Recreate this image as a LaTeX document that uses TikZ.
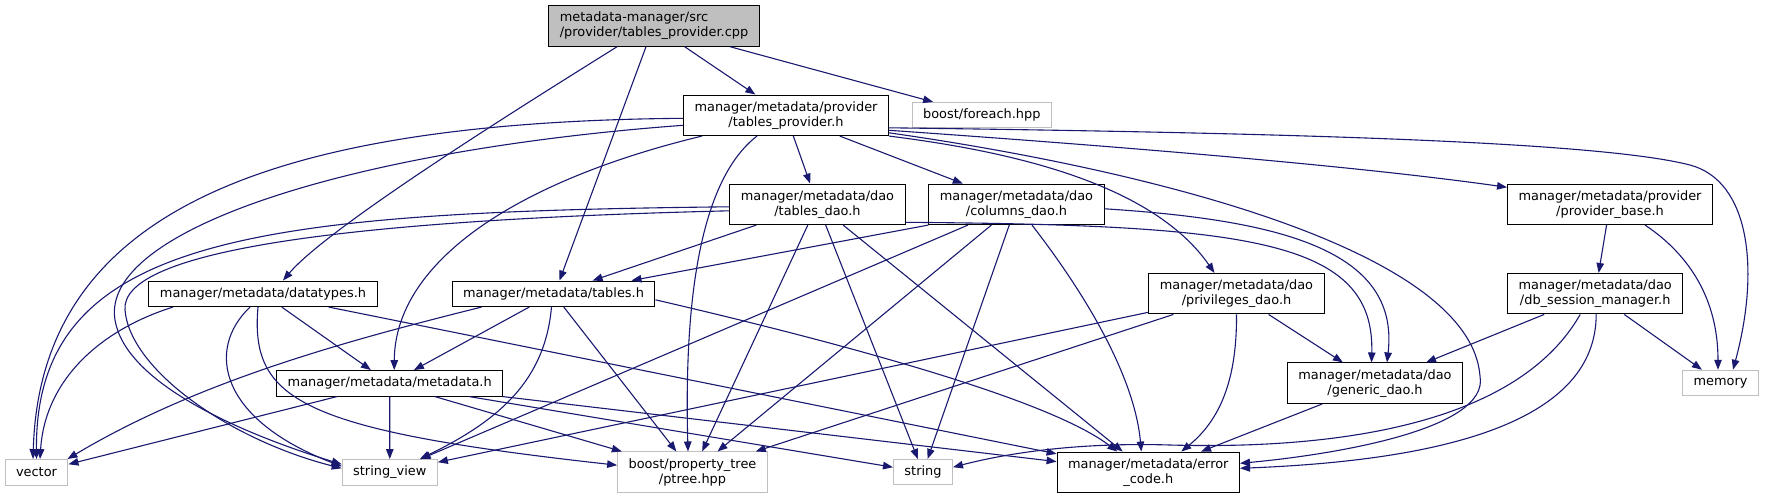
\documentclass[tikz,border=0pt]{standalone}
\usepackage{fontspec}
\setmainfont{DejaVu Sans}
\usetikzlibrary{arrows.meta}
\definecolor{dEdge}{HTML}{191970}
\definecolor{dGrey}{HTML}{BFBFBF}
\tikzset{
  hdr/.style={draw=black, fill=white, line width=1pt, inner xsep=11pt, inner ysep=1pt,
              minimum height=25.5pt, align=center, font=\fontsize{12.9pt}{15pt}\selectfont},
  hdr2/.style={hdr, minimum height=40.5pt},
  sys/.style={hdr, draw=dGrey},
  sys2/.style={hdr2, draw=dGrey},
  inc/.style={->, dEdge, line width=1.1pt},
}

\begin{document}
\begin{tikzpicture}[x=1pt, y=-1pt, >={Triangle[length=10pt, width=7.5pt]}]
  \useasboundingbox (0,0) rectangle (1765,499);
  % files, top to bottom
  \node[hdr2, fill=dGrey, align=left] (root) at (654,26) {metadata-manager/src\\/provider/tables\_provider.cpp};
  \node[hdr2] (tp) at (786,115.3) {manager/metadata/provider\\/tables\_provider.h};
  \node[sys] (foreach) at (981.8,115.2) {boost/foreach.hpp};
  \node[hdr2] (tdao) at (817.5,204.3) {manager/metadata/dao\\/tables\_dao.h};
  \node[hdr2] (cdao) at (1016.5,204.3) {manager/metadata/dao\\/columns\_dao.h};
  \node[hdr2] (pbase) at (1610,204.3) {manager/metadata/provider\\/provider\_base.h};
  \node[hdr] (dtypes) at (263,293.8) {manager/metadata/datatypes.h};
  \node[hdr] (tables) at (553.5,293.8) {manager/metadata/tables.h};
  \node[hdr2] (priv) at (1236.5,293.7) {manager/metadata/dao\\/privileges\_dao.h};
  \node[hdr2] (dbsm) at (1595.2,293.7) {manager/metadata/dao\\/db\_session\_manager.h};
  \node[hdr] (meta) at (389.7,383.3) {manager/metadata/metadata.h};
  \node[hdr2] (gdao) at (1375,383.2) {manager/metadata/dao\\/generic\_dao.h};
  \node[sys] (memory) at (1720.5,383) {memory};
  \node[sys] (vector) at (36.5,472.3) {vector};
  \node[sys] (sview) at (389.8,472.3) {string\_view};
  \node[sys2] (ptree) at (692.5,472.2) {boost/property\_tree\\/ptree.hpp};
  \node[sys] (string) at (923,472.2) {string};
  \node[hdr2] (err) at (1148.3,472.3) {manager/metadata/error\\\_code.h};

  % tables_provider.cpp
  \draw[inc] (root) -- (tp);
  \draw[inc] (root) -- (foreach);
  \draw[inc] ([xshift=-37pt]root.south) .. controls (540,95) and (330,225) .. ([xshift=20pt]dtypes.north);
  \draw[inc] ([xshift=-8pt]root.south) -- ([xshift=6pt]tables.north);

  % tables_provider.h
  \draw[inc] ([yshift=-3pt]tp.west) .. controls (250,122) and (40,220) .. ([xshift=-3.5pt]vector.north);
  \draw[inc] ([yshift=-10pt]tp.west) .. controls (350,150) and (100,230) .. (115,320)
             .. controls (125,380) and (230,430) .. ([yshift=8pt]sview.west);
  \draw[inc] ([xshift=-84pt]tp.south) .. controls (520,180) and (395,260) .. ([xshift=4.5pt]meta.north);
  \draw[inc] ([xshift=-29pt]tp.south) .. controls (700,180) and (684,300) .. ([xshift=-4.5pt]ptree.north);
  \draw[inc] (tp) -- (tdao);
  \draw[inc] (tp) -- (cdao);
  \draw[inc] (tp.south east) .. controls (1000,150) and (1150,180) .. ([xshift=-22pt]priv.north);
  \draw[inc] ([yshift=-17.5pt]tp.east) .. controls (1150,170) and (1470,250) .. (1480,376)
             .. controls (1490,430) and (1330,455) .. ([yshift=9pt]err.east);
  \draw[inc] ([yshift=-15pt]tp.east) .. controls (1100,145) and (1350,165) .. ([yshift=17pt]pbase.west);
  \draw[inc] ([yshift=-12.5pt]tp.east) .. controls (1300,133) and (1600,142) .. (1690,165)
             .. controls (1750,181) and (1760,270) .. ([xshift=12.5pt]memory.north);

  % tables_dao.h
  \draw[inc] ([yshift=-2.5pt]tdao.west) .. controls (250,212) and (35,238) .. (vector.north);
  \draw[inc] ([yshift=-6.5pt]tdao.west) .. controls (350,220) and (120,250) .. (125,310)
             .. controls (130,370) and (230,440) .. ([yshift=4pt]sview.west);
  \draw[inc] (tdao) -- (tables);
  \draw[inc] (tdao) -- (ptree);
  \draw[inc] (tdao) -- (string);
  \draw[inc] (tdao) -- (err);
  \draw[inc] ([yshift=-18pt]tdao.east) .. controls (1250,225) and (1375,240) .. ([xshift=-3.5pt]gdao.north);

  % columns_dao.h
  \draw[inc] (cdao.south west) -- ([xshift=78pt]tables.north);
  \draw[inc] (cdao) -- (sview);
  \draw[inc] (cdao) -- (ptree);
  \draw[inc] (cdao) -- (string);
  \draw[inc] ([xshift=15.5pt]cdao.south) .. controls (1090,300) and (1135,380) .. ([xshift=-7pt]err.north);
  \draw[inc] ([yshift=-4.5pt]cdao.east) .. controls (1280,220) and (1400,250) .. ([xshift=12pt]gdao.north);

  % provider_base.h
  \draw[inc] (pbase) -- (dbsm);
  \draw[inc] ([xshift=35pt]pbase.south) .. controls (1690,255) and (1718,300) .. ([xshift=-2.5pt]memory.north);

  % datatypes.h
  \draw[inc] (dtypes) -- (meta);
  \draw[inc] ([xshift=-90pt]dtypes.south) .. controls (100,330) and (45,380) .. ([xshift=3.5pt]vector.north);
  \draw[inc] ([xshift=-13pt]dtypes.south) .. controls (205,350) and (220,420) .. ([yshift=6pt]sview.west);
  \draw[inc] ([xshift=-5pt]dtypes.south) .. controls (250,400) and (300,430) .. ([yshift=7pt]ptree.west);
  \draw[inc] (dtypes) -- (err);

  % tables.h
  \draw[inc] ([xshift=-72pt]tables.south) .. controls (350,340) and (200,380) .. ([xshift=-1pt]vector.north east);
  \draw[inc] (tables) -- (meta);
  \draw[inc] ([xshift=-2pt]tables.south) .. controls (545,380) and (500,420) .. ([xshift=30pt]sview.north);
  \draw[inc] (tables) -- (ptree);
  \draw[inc] ([yshift=-6pt]tables.east) .. controls (850,345) and (1050,400) .. ([xshift=-31pt]err.north);

  % metadata.h
  \draw[inc] (meta) -- (vector);
  \draw[inc] (meta) -- (sview);
  \draw[inc] (meta) -- (ptree);
  \draw[inc] (meta) -- (string);
  \draw[inc] (meta) -- (err);

  % privileges_dao.h
  \draw[inc] (priv) -- (gdao);
  \draw[inc] (priv.south) .. controls (1237,380) and (1220,420) .. ([xshift=33pt]err.north);
  \draw[inc] (priv) -- (sview);
  \draw[inc] (priv) -- (ptree);

  % db_session_manager.h
  \draw[inc] (dbsm) -- (memory);
  \draw[inc] (dbsm) -- (gdao);
  \draw[inc] ([xshift=1pt]dbsm.south) .. controls (1596,420) and (1450,460) .. ([yshift=4pt]err.east);
  \draw[inc] ([xshift=-15pt]dbsm.south) .. controls (1520,420) and (1350,450) .. (1170,445)
             .. controls (1070,442) and (1000,455) .. ([yshift=5pt]string.east);

  % generic_dao.h
  \draw[inc] (gdao) -- (err);
\end{tikzpicture}
\end{document}
